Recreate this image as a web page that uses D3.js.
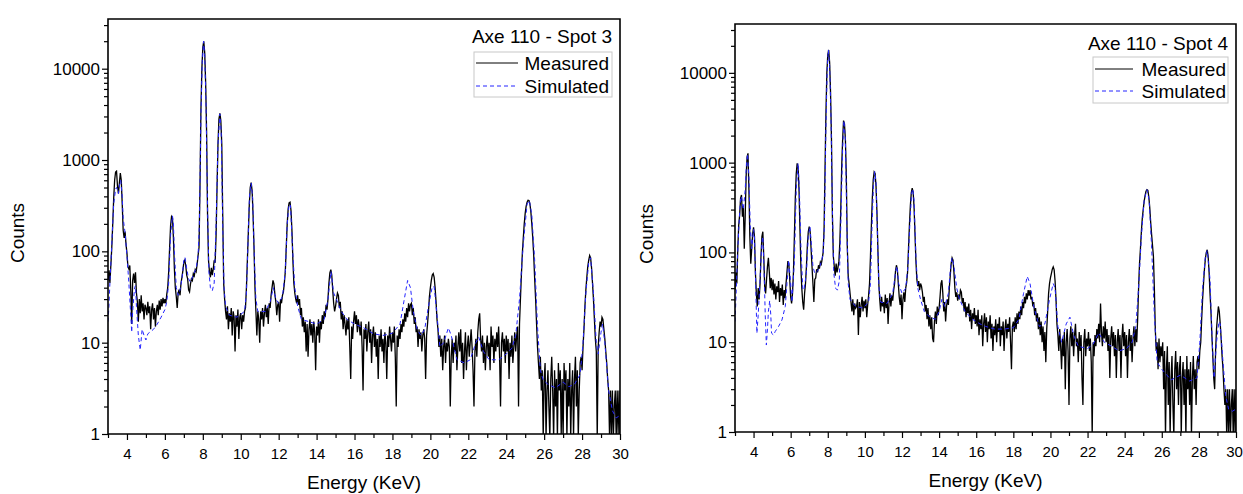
<!DOCTYPE html>
<html>
<head>
<meta charset="utf-8">
<script src="https://cdn.jsdelivr.net/npm/d3@7"></script>
<style>
  body { margin: 0; background: #fff; }
  svg { display: block; font-family: "Liberation Sans", Arial, sans-serif; }
</style>
</head>
<body>
<svg id="chart" width="1243" height="494"></svg>
<script>
// measured spectra: one value per channel, channel grid starts at E0 keV with STEP keV
const E0 = 3, STEP = 0.05;

const spot3Measured = [
  48,62,45,70,110,200,380,600,740,757,520,430,560,720,600,330,170,140,165,120,
  95,68,64,70,38,16,48,57,45,59,35,28,17,30,21,33,22,27,18,26,
  24,20,28,21,25,14,23,27,18,24,15,22,26,20,29,23,30,25,31,27,
  30,27,34,40,60,110,190,240,230,140,65,40,32,24,35,38,33,45,52,62,
  76,80,70,55,50,38,36,44,50,48,57,54,63,60,72,90,110,500,3500,10000,
  17000,20000,15000,7000,2000,250,80,60,52,66,55,64,80,75,150,500,1500,2800,3240,2700,
  1500,250,45,30,22,18,25,14,21,17,24,12,22,19,8,20,15,23,11,19,
  21,14,20,17,22,24,40,80,160,320,500,565,460,250,110,40,22,12,22,18,
  10,22,18,24,15,21,26,19,24,16,27,24,33,40,48,44,34,28,20,26,
  28,17,30,27,33,36,45,60,110,200,290,340,346,280,170,80,45,35,30,27,
  33,26,30,20,24,15,19,13,17,8,16,7,14,18,12,16,10,17,13,5,
  15,12,18,10,17,14,20,16,22,19,26,23,30,45,58,63,55,38,27,22,
  25,30,35,33,24,28,18,22,14,20,16,12,18,14,19,9,4,15,11,17,
  22,16,20,13,18,15,12,17,9,3,14,11,16,8,13,17,10,14,6,12,
  15,9,13,7,11,4,12,9,14,8,11,6,13,10,4,12,9,15,11,8,
  13,10,15,7,2,12,9,14,11,16,13,18,15,21,17,24,19,27,22,26,
  27,20,24,16,19,13,15,9,14,11,13,8,12,14,11,4,12,16,22,32,
  40,48,55,57,52,40,28,18,14,9,12,7,11,5,9,12,6,10,8,11,
  9,2,7,11,6,10,8,12,5,9,13,8,14,6,10,4,8,13,5,9,
  12,7,10,14,9,5,2,8,11,7,13,18,21,11,8,12,6,10,5,9,
  12,7,10,5,15,9,12,6,11,8,13,9,15,7,2,10,13,8,11,6,
  12,8,11,4,10,7,12,6,9,13,8,12,15,2,16,30,55,95,140,200,
  260,310,345,362,360,330,270,200,140,90,50,30,16,9,6,4,7,3,5,0,
  4,6,0,3,5,2,0,4,7,3,0,5,2,4,0,6,3,5,1,4,
  0,6,3,5,0,4,2,6,0,3,5,0,4,7,2,5,0,3,6,7,
  5,9,14,25,38,52,68,80,90,85,66,45,30,18,11,8,0,9,13,17,
  15,19,18,14,11,8,6,4,3,0,3,1,3,0,2,3,0,3,1,3,0
];

const spot4Measured = [
  38,60,45,110,200,260,400,437,250,330,110,250,700,1150,1270,500,150,75,110,160,
  190,150,60,35,25,40,30,45,90,150,170,90,42,35,50,70,87,60,40,52,
  38,50,34,45,30,42,36,48,28,40,33,44,26,38,31,45,60,80,75,50,
  32,27,35,60,150,400,750,980,900,500,180,70,40,28,23,35,45,70,120,170,
  194,170,110,70,45,28,50,52,65,60,72,66,78,74,85,100,180,800,3500,10000,
  16000,18000,13000,6000,1800,250,90,70,55,75,60,68,80,130,300,900,1800,2940,2700,1800,
  700,120,55,45,35,28,22,30,20,27,24,25,30,12,28,19,26,32,22,29,
  24,30,19,26,33,45,90,200,400,650,790,760,550,280,110,45,30,22,32,25,
  28,21,34,24,31,16,27,35,25,33,29,38,45,62,72,65,45,32,26,34,
  18,30,36,28,40,46,60,110,200,330,460,520,470,320,160,80,50,42,48,38,
  45,42,36,28,32,22,26,18,24,15,20,14,19,11,10,17,22,16,25,20,
  24,32,45,49,35,22,28,17,25,30,26,40,55,75,87,82,60,40,32,36,
  29,34,30,38,36,27,31,22,28,19,25,21,27,17,23,14,21,18,24,16,
  20,15,23,12,18,14,20,9,16,21,13,19,10,17,14,20,11,16,8,15,
  12,18,10,16,13,19,9,15,12,17,8,14,18,11,16,13,19,10,5,15,
  17,13,19,14,21,16,22,18,25,20,28,24,32,27,35,30,38,33,38,30,
  32,25,28,20,24,17,21,14,19,12,17,10,15,8,13,6,14,22,35,45,
  52,58,65,69,64,48,30,16,12,8,14,9,5,11,7,13,3,10,14,8,
  2,11,15,9,13,7,12,16,9,11,6,13,8,12,4,2,10,14,7,11,
  9,13,8,11,6,0,10,7,12,9,14,11,16,10,27,13,9,15,11,17,
  10,14,8,12,4,11,15,9,13,7,12,4,10,14,8,12,4,11,16,9,
  13,7,12,4,10,14,8,12,6,11,15,9,14,10,18,40,75,110,170,240,
  300,370,430,480,500,490,420,320,220,160,120,90,40,14,8,10,5,11,6,9,
  7,10,3,8,0,5,9,2,6,0,4,7,2,0,5,8,3,6,2,5,
  7,0,4,6,2,5,0,7,3,5,2,6,0,4,7,3,5,2,6,7,
  5,8,10,18,30,45,65,85,100,107,90,60,35,22,12,7,4,3,8,14,
  19,25,22,16,11,7,5,3,2,3,0,3,1,3,0,2,3,0,3,1,3
];

// simulated spectra: [energy keV, counts]
const spot3Simulated = [
  [3.0,17],[3.05,25],[3.1,45],[3.2,120],[3.3,330],[3.4,480],[3.45,500],[3.5,470],[3.55,430],[3.6,520],
  [3.67,600],[3.75,400],[3.8,230],[3.9,160],[4.0,90],[4.1,45],[4.2,20],[4.25,13],[4.3,22],[4.4,40],
  [4.45,42],[4.5,25],[4.6,12],[4.7,8.3],[4.8,14],[4.9,12],[5.0,10.7],[5.1,12.5],[5.2,13],[5.4,14],
  [5.6,16],[5.8,19],[6.0,23],[6.1,28],[6.2,45],[6.3,150],[6.4,245],[6.45,200],[6.5,100],[6.6,40],
  [6.7,33],[6.8,38],[6.9,50],[7.0,80],[7.06,86],[7.15,65],[7.25,50],[7.35,46],[7.5,55],[7.65,65],
  [7.75,90],[7.82,200],[7.9,3000],[7.97,12000],[8.04,20000],[8.1,14000],[8.17,4000],[8.25,300],[8.32,60],[8.4,40],
  [8.5,37],[8.6,45],[8.7,200],[8.8,1500],[8.9,3200],[8.97,2000],[9.05,200],[9.12,40],[9.2,25],[9.4,20],
  [9.8,19],[10.2,22],[10.3,35],[10.38,120],[10.46,400],[10.55,560],[10.63,380],[10.72,80],[10.8,30],[10.9,22],
  [11.3,22],[11.55,28],[11.72,40],[11.85,30],[12.0,27],[12.2,32],[12.35,60],[12.45,200],[12.55,330],[12.62,320],
  [12.72,120],[12.85,40],[13.0,25],[13.2,18],[14.0,16],[14.4,18],[14.6,30],[14.76,60],[14.9,35],[15.1,28],
  [15.3,22],[15.6,18],[16.0,16],[16.5,14.5],[17.0,12.5],[17.5,12],[18.0,12.7],[18.4,16],[18.6,28],[18.8,48],
  [18.95,40],[19.1,22],[19.3,14],[19.5,12],[19.7,14],[19.9,25],[20.1,41],[20.2,41],[20.35,20],[20.5,9],
  [20.7,10],[20.95,14.5],[21.1,12],[21.4,6.5],[21.8,6],[22.1,6.5],[22.4,10],[22.55,11.5],[22.8,8],[23.1,6.5],
  [23.6,6.5],[24.0,7.5],[24.3,8.7],[24.5,12],[24.7,30],[24.9,120],[25.1,330],[25.22,360],[25.35,250],[25.5,80],
  [25.65,15],[25.8,5],[25.95,3.9],[26.2,3.5],[26.6,3.2],[27.0,3.7],[27.3,3.3],[27.6,3.5],[27.9,4.5],[28.05,10],
  [28.2,35],[28.35,75],[28.45,85],[28.6,35],[28.75,10],[28.85,7.5],[29.0,13],[29.08,16],[29.2,10],[29.4,3],
  [29.6,1.8],[29.8,1.5],[30.0,1.6]
];

const spot4Simulated = [
  [3.0,17],[3.05,30],[3.1,60],[3.2,180],[3.3,400],[3.35,420],[3.45,300],[3.55,500],[3.62,1000],[3.68,1250],
  [3.75,700],[3.82,200],[3.9,110],[4.0,180],[4.05,150],[4.12,40],[4.18,12.6],[4.25,20],[4.35,50],[4.45,130],
  [4.5,150],[4.57,60],[4.63,20],[4.69,9.3],[4.75,14],[4.8,22],[4.87,29],[4.93,20],[4.97,12.6],[5.08,12],
  [5.17,13.2],[5.35,15],[5.53,17.7],[5.71,25],[5.8,45],[5.89,82],[5.97,55],[6.07,28],[6.2,80],[6.3,500],
  [6.4,980],[6.47,500],[6.55,120],[6.65,40],[6.72,38],[6.85,60],[6.95,150],[7.04,195],[7.12,120],[7.2,70],
  [7.3,58],[7.45,62],[7.6,72],[7.75,95],[7.82,200],[7.9,2500],[7.97,11000],[8.03,18000],[8.1,12000],[8.17,3500],
  [8.25,300],[8.32,60],[8.42,40],[8.52,38],[8.62,48],[8.7,200],[8.8,1400],[8.87,2940],[8.95,1800],[9.03,200],
  [9.1,45],[9.2,30],[9.5,25],[9.9,24],[10.2,28],[10.3,45],[10.38,180],[10.46,550],[10.53,795],[10.6,600],
  [10.68,150],[10.76,40],[10.85,28],[11.2,27],[11.5,35],[11.65,60],[11.73,70],[11.82,45],[12.0,35],[12.2,40],
  [12.32,70],[12.42,200],[12.52,460],[12.58,510],[12.65,380],[12.75,90],[12.85,40],[13.0,30],[13.2,22],[13.5,19],
  [13.8,18],[14.0,22],[14.15,30],[14.3,25],[14.5,35],[14.62,70],[14.7,87],[14.8,70],[14.95,40],[15.1,30],
  [15.4,22],[15.8,18],[16.2,16],[16.5,15],[17.0,14],[17.5,14],[18.0,14.5],[18.3,18],[18.55,35],[18.75,54],
  [18.9,45],[19.1,25],[19.4,15],[19.7,16],[19.95,30],[20.15,45],[20.25,40],[20.4,15],[20.6,10],[20.85,16],
  [21.05,19],[21.25,12],[21.5,9],[22.0,8.5],[22.3,9.5],[22.6,12.7],[22.9,10],[23.3,9],[23.7,8],[24.1,8.5],
  [24.4,10],[24.6,15],[24.75,40],[24.9,150],[25.05,380],[25.2,500],[25.32,380],[25.45,120],[25.6,20],[25.75,6],
  [26.0,5],[26.5,3.8],[27.0,4.3],[27.5,3.7],[27.9,4],[28.05,10],[28.2,40],[28.35,90],[28.45,105],[28.6,50],
  [28.72,10],[28.82,4],[28.95,10],[29.08,17],[29.15,16],[29.3,6],[29.45,2.5],[29.6,1.8],[29.8,1.7],[30.0,1.8]
];

const xMajorTicks = [4, 6, 8, 10, 12, 14, 16, 18, 20, 22, 24, 26, 28, 30];
const xMinorTicks = [3, 5, 7, 9, 11, 13, 15, 17, 19, 21, 23, 25, 27, 29];
const yMajorTicks = [1, 10, 100, 1000, 10000];
const seriesNames = ['Measured', 'Simulated'];
const panelTitles = ['Axe 110 - Spot 3', 'Axe 110 - Spot 4'];

const WIDTH = 1243;
const FONT = '"Liberation Sans", Arial, sans-serif';
const SIM_COLOR = '#2424ff';

// minor log ticks 2..9 in each decade, up to the top of the axis
let yMinorTicks = [];
yMajorTicks.forEach(d => {
  for (let k = 2; k <= 9; k++) {
    if (d * k < 35000) yMinorTicks.push(d * k);
  }
});

const panels = [
  {id: 3, title: panelTitles[0], measured: spot3Measured, simulated: spot3Simulated,
   left: 108, top: 19, right: 620, bottom: 434, countsX: 24, countsY: 233, energyY: 489,
   legend: {x0: 474, x1: 612, y0: 52, y1: 97, line0: 476, line1: 518, titleY: 43, row1: 70, row2: 93, textX: 609}},
  {id: 4, title: panelTitles[1], measured: spot4Measured, simulated: spot4Simulated,
   left: 735, top: 24, right: 1236, bottom: 432, countsX: 653, countsY: 234, energyY: 487,
   legend: {x0: 1093, x1: 1228, y0: 57, y1: 103, line0: 1095, line1: 1133, titleY: 50, row1: 76, row2: 98, textX: 1226}}
];

const svg = d3.select('#chart');

function styleAxis(sel, size) {
  sel.selectAll('.domain').remove();
  sel.attr('font-family', FONT).attr('font-size', size).attr('color', '#000');
  sel.selectAll('line').attr('stroke-width', 1.2);
}

function drawPanel(p) {
  let x = d3.scaleLinear().domain([3, 30]).range([p.left, p.right]);
  let y = d3.scaleLog().domain([1, 35000]).range([p.bottom, p.top]);
  let g = svg.append('g').attr('class', 'panel' + p.id);

  svg.append('defs').append('clipPath').attr('id', 'clip' + p.id)
    .append('rect')
    .attr('x', p.left).attr('y', p.top)
    .attr('width', p.right - p.left).attr('height', p.bottom - p.top);

  let measured = p.measured.map((v, i) => [E0 + i * STEP, v]);
  // zero counts have no log value: send them to the bottom edge
  let line = d3.line()
    .x(d => x(d[0]))
    .y(d => d[1] > 0 ? y(d[1]) : p.bottom + 4);

  g.append('path')
    .datum(measured)
    .attr('clip-path', 'url(#clip' + p.id + ')')
    .attr('fill', 'none')
    .attr('stroke', '#000')
    .attr('stroke-width', 1.3)
    .attr('stroke-linejoin', 'miter')
    .attr('d', line);

  g.append('path')
    .datum(p.simulated)
    .attr('clip-path', 'url(#clip' + p.id + ')')
    .attr('fill', 'none')
    .attr('stroke', SIM_COLOR)
    .attr('stroke-width', 1)
    .attr('stroke-dasharray', '4,3')
    .attr('d', line);

  // frame (all four sides)
  g.append('path')
    .attr('d', 'M' + p.left + ',' + p.top + 'H' + p.right + 'V' + p.bottom + 'H' + p.left + 'Z')
    .attr('fill', 'none')
    .attr('stroke', '#000')
    .attr('stroke-width', 1.6);

  // x axis: labelled majors and short minors in separate groups
  let xg = g.append('g').attr('transform', 'translate(0,' + p.bottom + ')')
    .call(d3.axisBottom(x).tickValues(xMajorTicks).tickSize(6).tickPadding(8).tickFormat(d3.format('d')))
    .call(styleAxis, 15);
  // keep the last label inside the page
  let overflow = p.right + 9 - WIDTH;
  if (overflow > 0) {
    xg.selectAll('.tick').filter(d => d === 30).select('text').attr('x', -overflow);
  }
  g.append('g').attr('transform', 'translate(0,' + p.bottom + ')')
    .call(d3.axisBottom(x).tickValues(xMinorTicks).tickSize(4).tickFormat(''))
    .call(styleAxis, 15);

  // y axis
  g.append('g').attr('transform', 'translate(' + p.left + ',0)')
    .call(d3.axisLeft(y).tickValues(yMajorTicks).tickSize(6).tickPadding(2).tickFormat(d3.format('d')))
    .call(styleAxis, 17);
  g.append('g').attr('transform', 'translate(' + p.left + ',0)')
    .call(d3.axisLeft(y).tickValues(yMinorTicks).tickSize(4).tickFormat(''))
    .call(styleAxis, 17);

  // axis titles
  g.append('text')
    .attr('x', (p.left + p.right) / 2).attr('y', p.energyY)
    .attr('text-anchor', 'middle')
    .style('font-size', '19px')
    .text('Energy (KeV)');

  g.append('text')
    .attr('transform', 'translate(' + p.countsX + ',' + p.countsY + ') rotate(-90)')
    .attr('text-anchor', 'middle')
    .style('font-size', '19px')
    .text('Counts');

  // title + legend
  let lg = p.legend;
  g.append('text')
    .attr('x', lg.x1).attr('y', lg.titleY)
    .attr('text-anchor', 'end')
    .style('font-size', '19px')
    .text(p.title);

  g.append('rect')
    .attr('x', lg.x0).attr('y', lg.y0)
    .attr('width', lg.x1 - lg.x0).attr('height', lg.y1 - lg.y0)
    .attr('fill', '#fff')
    .attr('stroke', '#c8c8c8')
    .attr('stroke-width', 1);

  let rows = [lg.row1, lg.row2];
  seriesNames.forEach((name, i) => {
    g.append('line')
      .attr('x1', lg.line0).attr('x2', lg.line1)
      .attr('y1', rows[i] - 7).attr('y2', rows[i] - 7)
      .attr('stroke', i === 0 ? '#000' : SIM_COLOR)
      .attr('stroke-width', 1)
      .attr('stroke-dasharray', i === 0 ? null : '4,3');
    g.append('text')
      .attr('x', lg.textX).attr('y', rows[i])
      .attr('text-anchor', 'end')
      .style('font-size', '19px')
      .text(name);
  });
}

panels.forEach(drawPanel);
</script>
</body>
</html>
